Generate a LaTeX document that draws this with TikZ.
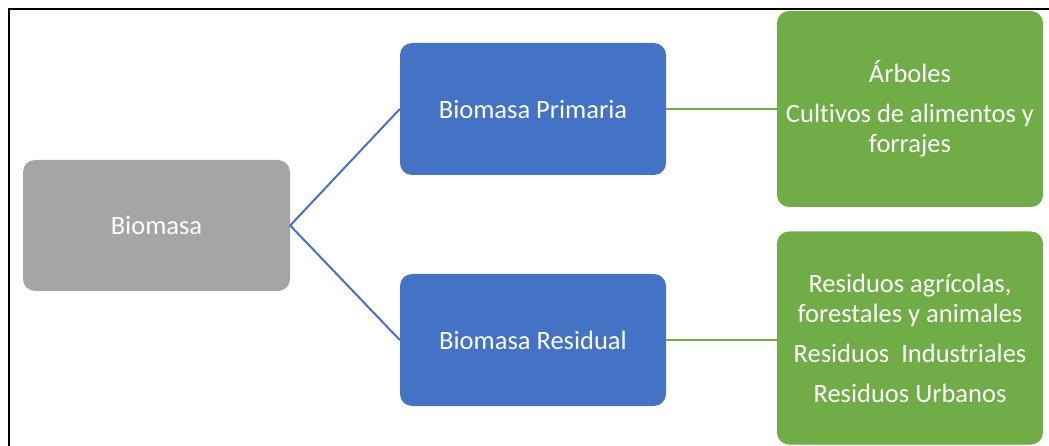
\documentclass[tikz,border=0pt]{standalone}
\usepackage{fontspec}
\setmainfont[Ligatures=NoCommon]{Carlito}
\definecolor{boxgray}{HTML}{A5A5A5}
\definecolor{boxblue}{HTML}{4472C4}
\definecolor{boxgreen}{HTML}{70AD47}
\tikzset{
  boxbase/.style={rounded corners=12pt, inner sep=0pt, text=white, align=center,
    font=\fontsize{26.5}{30}\selectfont, minimum width=266pt},
  graybox/.style={boxbase, fill=boxgray},
  bluebox/.style={boxbase, fill=boxblue, minimum height=132pt},
  greenbox/.style={boxbase, fill=boxgreen},
  blueline/.style={draw=boxblue, line width=2pt},
  greenline/.style={draw=boxgreen, line width=2pt},
}
\begin{document}
\begin{tikzpicture}[x=1pt,y=-1pt]
\useasboundingbox (0,0) rectangle (1049,446);
\draw[line width=2pt] (8.5,460) -- (8.5,9.5) -- (1060,9.5);
\node[graybox, minimum width=267pt, minimum height=131pt] (bio) at (156.5,225.5) {Biomasa};
\node[bluebox] (prim) at (533,109) {Biomasa Primaria};
\node[bluebox] (resi) at (533,340) {Biomasa Residual};
\node[greenbox, minimum height=196pt] (gprim) at (910,109)
  {Árboles\\[10pt]Cultivos de alimentos y\\forrajes};
\node[greenbox, minimum height=213pt] (gresi) at (910,338)
  {Residuos agrícolas,\\forestales y animales\\[10pt]Residuos\ \ Industriales\\[10pt]Residuos Urbanos};
\draw[blueline] (prim.west) -- (bio.east) -- (resi.west);
\draw[greenline] (prim.east) -- (prim.east -| gprim.west);
\draw[greenline] (resi.east) -- (resi.east -| gresi.west);
\end{tikzpicture}
\end{document}
